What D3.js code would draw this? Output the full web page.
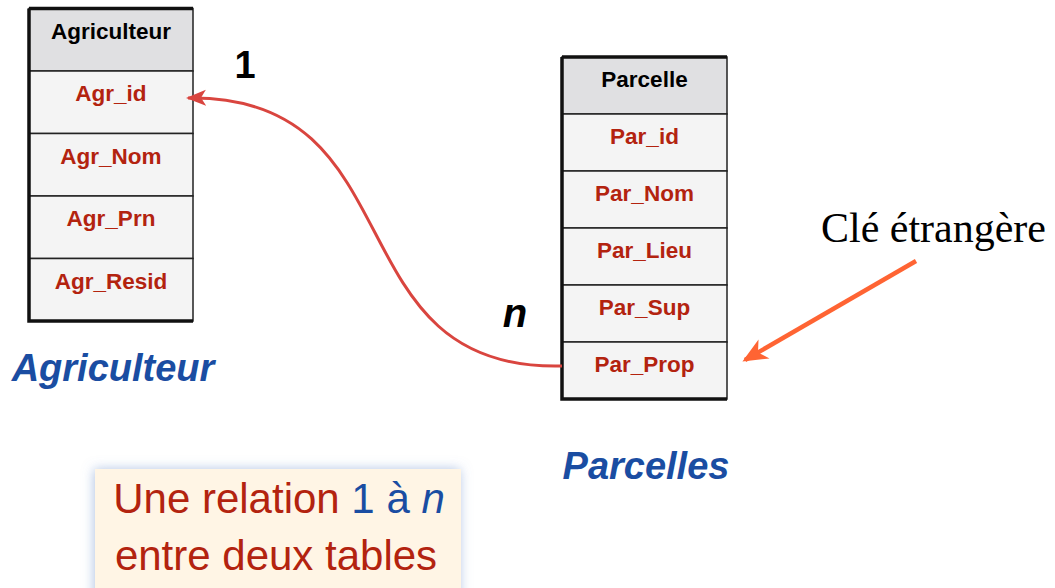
<!DOCTYPE html>
<html>
<head>
<meta charset="utf-8">
<script src="https://cdn.jsdelivr.net/npm/d3@7"></script>
<style>
  body { margin: 0; background: #fff; }
  svg { display: block; }
</style>
</head>
<body>
<svg id="schema"></svg>
<script>
// tables et champs
const agrTitle = "Agriculteur";
const agrFields = ["Agr_id", "Agr_Nom", "Agr_Prn", "Agr_Resid"];
const parTitle = "Parcelle";
const parFields = ["Par_id", "Par_Nom", "Par_Lieu", "Par_Sup", "Par_Prop"];
// relation : source -> cible
const link = { from: "Par_Prop", to: "Agr_id", card1: "1", cardN: "n" };
const captions = ["Agriculteur", "Parcelles"];
const fkLabel = "Clé étrangère";

const width = 1055, height = 588;
const svg = d3.select('#schema')
  .attr("width", width)
  .attr("height", height);

const sans = "'Liberation Sans', Arial, sans-serif";
const red = "#b3230f", blue = "#1a4da2";

const defs = svg.append("defs");
defs.append("marker")
  .attr("id", "headRed")
  .attr("viewBox", "0 -10 22 20")
  .attr("refX", 18).attr("refY", 0)
  .attr("markerUnits", "userSpaceOnUse")
  .attr("markerWidth", 22).attr("markerHeight", 20)
  .attr("orient", "auto")
  .append("path")
  .attr("d", "M20,0 L0,-8 L5,0 L0,8 Z")
  .attr("fill", "#d9453f");
defs.append("marker")
  .attr("id", "headOrange")
  .attr("viewBox", "0 -12 26 24")
  .attr("refX", 22).attr("refY", 0)
  .attr("markerUnits", "userSpaceOnUse")
  .attr("markerWidth", 26).attr("markerHeight", 24)
  .attr("orient", "auto")
  .append("path")
  .attr("d", "M25,0 L0,-11 L7,0 L0,11 Z")
  .attr("fill", "#ff6433");
const shadow = defs.append("filter").attr("id", "glow")
  .attr("x", "-20%").attr("y", "-20%").attr("width", "140%").attr("height", "140%");
shadow.append("feDropShadow")
  .attr("dx", -1).attr("dy", 0).attr("stdDeviation", 6)
  .attr("flood-color", "#6f93cf").attr("flood-opacity", 0.55);

// dessine une table
function drawTable(title, fields, x0, x1, y0, y1) {
  const y = d3.scaleBand().domain([title, ...fields]).range([y0, y1]);
  const g = svg.append("g");
  const rows = g.selectAll("g.row").data([title, ...fields]).join("g").attr("class", "row");
  rows.append("rect")
    .attr("x", x0).attr("y", d => y(d))
    .attr("width", x1 - x0).attr("height", y.bandwidth())
    .attr("fill", (d, i) => i === 0 ? "#e0e0e2" : "#f4f4f4")
    .attr("stroke", "#222").attr("stroke-width", 1.5);
  rows.append("text")
    .attr("x", (x0 + x1) / 2).attr("y", d => y(d) + 30)
    .attr("text-anchor", "middle")
    .attr("font-family", sans).attr("font-weight", "bold")
    .attr("font-size", 22.5)
    .attr("fill", (d, i) => i === 0 ? "#000" : red)
    .text(d => d);
  // bordures épaisses gauche, haut, bas
  g.append("path")
    .attr("d", `M${x0},${y0} H${x1} M${x0},${y0} V${y1} H${x1}`)
    .attr("fill", "none").attr("stroke", "#111").attr("stroke-width", 3.5);
  return { y, x0, x1 };
}

const agr = drawTable(agrTitle, agrFields, 29, 193, 8.5, 321);
const par = drawTable(parTitle, parFields, 562, 727, 57, 399);

// courbe de la relation (S plus marqué que linkHorizontal)
const src = [par.x0, par.y(link.from) + 24];
const tgt = [agr.x1 - 5, agr.y(link.to) + 27];
const k = 0.62 * (src[0] - tgt[0]);
const p = d3.path();
p.moveTo(src[0], src[1]);
p.bezierCurveTo(src[0] - k, src[1] + 6, tgt[0] + k, tgt[1] - 4, tgt[0], tgt[1]);
svg.append("path")
  .attr("d", p.toString())
  .attr("fill", "none")
  .attr("stroke", "#d9453f").attr("stroke-width", 3)
  .attr("marker-end", "url(#headRed)");

// cardinalités
svg.append("text")
  .attr("x", 245).attr("y", 78)
  .attr("text-anchor", "middle")
  .attr("font-family", sans).attr("font-weight", "bold").attr("font-size", 38)
  .text(link.card1);
svg.append("text")
  .attr("x", 515).attr("y", 327)
  .attr("text-anchor", "middle")
  .attr("font-family", sans).attr("font-weight", "bold").attr("font-style", "italic")
  .attr("font-size", 40)
  .text(link.cardN);

// noms des tables
svg.selectAll("text.caption").data(captions).join("text")
  .attr("class", "caption")
  .attr("x", (d, i) => i === 0 ? 113 : 646)
  .attr("y", (d, i) => i === 0 ? 381 : 479)
  .attr("text-anchor", "middle")
  .attr("font-family", sans).attr("font-weight", "bold").attr("font-style", "italic")
  .attr("font-size", 38)
  .attr("fill", blue)
  .text(d => d);

// clé étrangère
svg.append("text")
  .attr("x", 1046).attr("y", 242)
  .attr("text-anchor", "end")
  .attr("font-family", "'Liberation Serif', 'Times New Roman', serif")
  .attr("font-size", 42)
  .text(fkLabel);
svg.append("line")
  .attr("x1", 916).attr("y1", 261)
  .attr("x2", 745).attr("y2", 360)
  .attr("stroke", "#ff6433").attr("stroke-width", 4.5)
  .attr("marker-end", "url(#headOrange)");

// encadré
const box = svg.append("g");
box.append("rect")
  .attr("x", 95).attr("y", 469).attr("width", 366).attr("height", 160)
  .attr("fill", "#fff5e5")
  .attr("filter", "url(#glow)");
const t1 = box.append("text")
  .attr("x", 279).attr("y", 513)
  .attr("text-anchor", "middle")
  .attr("font-family", sans).attr("font-size", 42);
t1.append("tspan").attr("fill", red).text("Une relation ");
t1.append("tspan").attr("fill", blue).text("1 à ");
t1.append("tspan").attr("fill", blue).attr("font-style", "italic").text("n");
box.append("text")
  .attr("x", 276).attr("y", 570)
  .attr("text-anchor", "middle")
  .attr("font-family", sans).attr("font-size", 42)
  .attr("fill", red)
  .text("entre deux tables");
</script>
</body>
</html>
